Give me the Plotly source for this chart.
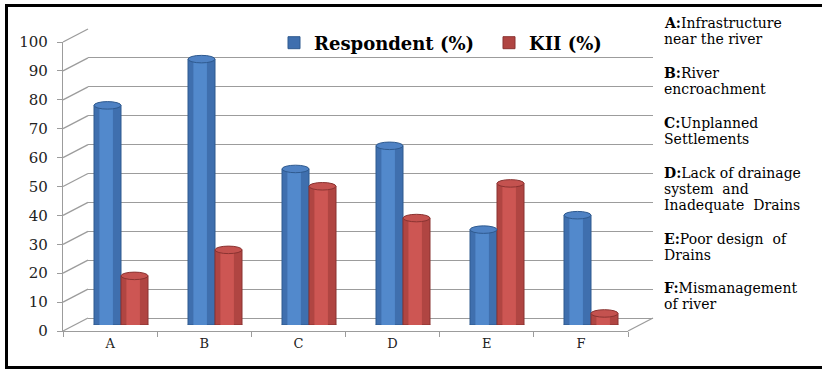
import plotly.graph_objects as go

categories = ["A", "B", "C", "D", "E", "F"]
respondent = [76, 92, 54, 62, 33, 38]
kii = [17, 26, 48, 37, 49, 4]
y_ticks = [0, 10, 20, 30, 40, 50, 60, 70, 80, 90, 100]
notes = [
    ["<b>A:</b>Infrastructure", "near the river"],
    ["<b>B:</b>River", "encroachment"],
    ["<b>C:</b>Unplanned", "Settlements"],
    ["<b>D:</b>Lack of drainage", "system\u00a0 and", "Inadequate\u00a0 Drains"],
    ["<b>E:</b>Poor design\u00a0 of", "Drains"],
    ["<b>F:</b>Mismanagement", "of river"],
]
# layout: first-line centre (px from top) for each note block
note_tops = [23, 73, 123, 173, 239, 288]
LINE_STEP = 16

W, H = 822, 370
def fx(p):
    return p / W
def fy(p):
    return 1 - p / H

GRID = "#9C9C9C"
SERIF = "DejaVu Serif"
BAR_W = 27 / 94
CAP = 1.3  # half-height of cylinder cap, in data units

fig = go.Figure()

# invisible anchor traces so back-wall and front-axis subplots are created
fig.add_trace(go.Scatter(x=categories, y=[0] * len(categories), xaxis="x", yaxis="y",
                         mode="markers", marker=dict(opacity=0), showlegend=False,
                         hoverinfo="skip"))
fig.add_trace(go.Scatter(x=categories, y=[0] * len(categories), xaxis="x2", yaxis="y2",
                         mode="markers", marker=dict(opacity=0), showlegend=False,
                         hoverinfo="skip"))

# main bars
fig.add_trace(go.Bar(x=categories, y=respondent, name="Respondent (%)", xaxis="x3", yaxis="y3",
                     width=BAR_W, offset=-BAR_W,
                     marker=dict(color="#3F6FAE", line=dict(color="#2F5A8F", width=1))))
fig.add_trace(go.Bar(x=categories, y=kii, name="KII (%)", xaxis="x3", yaxis="y3",
                     width=BAR_W, offset=0,
                     marker=dict(color="#B04542", line=dict(color="#8A3331", width=1))))
# cylinder highlight
fig.add_trace(go.Bar(x=categories, y=respondent, xaxis="x3", yaxis="y3", showlegend=False,
                     width=BAR_W * 0.5, offset=-BAR_W * 0.8, hoverinfo="skip",
                     marker=dict(color="#5289CC", line=dict(width=0))))
fig.add_trace(go.Bar(x=categories, y=kii, xaxis="x3", yaxis="y3", showlegend=False,
                     width=BAR_W * 0.5, offset=BAR_W * 0.2, hoverinfo="skip",
                     marker=dict(color="#CD5653", line=dict(width=0))))

# back wall geometry (px)
bx0, bx1, by0, by100 = 88, 653, 318, 29
# front axes geometry (px)
fx0, fx1, fy0, fy100 = 63, 628, 331, 42

shapes = []
for t in y_ticks:
    yb = by0 + (by100 - by0) * t / 100
    yf = fy0 + (fy100 - fy0) * t / 100
    shapes.append(dict(type="line", xref="paper", yref="paper",
                       x0=fx(fx0), y0=fy(yf), x1=fx(bx0), y1=fy(yb),
                       line=dict(color=GRID, width=1.3), layer="below"))
shapes.append(dict(type="line", xref="paper", yref="paper",
                   x0=fx(fx1), y0=fy(fy0), x1=fx(bx1), y1=fy(by0),
                   line=dict(color=GRID, width=1.3), layer="below"))

# cylinder caps (top ellipses and rounded bottoms) from the data
for i, (r, k) in enumerate(zip(respondent, kii)):
    for val, x0, fill, edge in ((r, i - BAR_W, "#4F82C4", "#2F5A8F"),
                                (k, i, "#C4524F", "#8A3331")):
        shapes.append(dict(type="circle", xref="x3", yref="y3",
                           x0=x0, x1=x0 + BAR_W, y0=-CAP, y1=CAP,
                           fillcolor=fill, line=dict(color=edge, width=1), layer="below"))
        shapes.append(dict(type="circle", xref="x3", yref="y3",
                           x0=x0, x1=x0 + BAR_W, y0=val - CAP, y1=val + CAP,
                           fillcolor=fill, line=dict(color=edge, width=1), layer="above"))

shapes.append(dict(type="rect", xref="paper", yref="paper",
                   x0=fx(6.5), y0=fy(5.5), x1=fx(835), y1=fy(367.5),
                   line=dict(color="black", width=3), fillcolor="rgba(0,0,0,0)"))

annotations = []
for lines, top in zip(notes, note_tops):
    for i, line in enumerate(lines):
        annotations.append(dict(xref="paper", yref="paper", x=fx(662), y=fy(top + i * LINE_STEP),
                                xanchor="left", yanchor="middle", align="left", showarrow=False,
                                text=line,
                                font=dict(family=SERIF, size=14, color="black")))

fig.update_layout(
    width=W, height=H,
    margin=dict(l=0, r=0, t=0, b=0, autoexpand=False),
    paper_bgcolor="white", plot_bgcolor="rgba(0,0,0,0)",
    barmode="overlay",
    showlegend=True,
    legend=dict(orientation="h", x=fx(274), xanchor="left", y=fy(43), yanchor="middle",
                bgcolor="rgba(0,0,0,0)", entrywidth=170, entrywidthmode="pixels",
                font=dict(family=SERIF, size=18, color="black", weight="bold")),
    xaxis=dict(domain=[fx(bx0), fx(bx1)], anchor="y", type="category",
               categoryorder="array", categoryarray=categories, range=[-0.5, 5.5],
               showgrid=False, zeroline=False, showline=False, showticklabels=False,
               ticks=""),
    yaxis=dict(domain=[fy(by0), fy(by100)], anchor="x", range=[0, 100], dtick=10,
               showgrid=True, gridcolor=GRID, gridwidth=1.3, zeroline=True,
               zerolinecolor=GRID, zerolinewidth=1.3, showticklabels=False, showline=False,
               ticks=""),
    xaxis2=dict(domain=[fx(fx0), fx(fx1)], anchor="y2", type="category",
                categoryorder="array", categoryarray=categories, range=[-0.5, 5.5],
                showline=True, linecolor=GRID, linewidth=1.3, ticks="outside",
                tickson="boundaries", ticklen=5, tickcolor=GRID, showgrid=False,
                tickfont=dict(family=SERIF, size=13, color="#222")),
    yaxis2=dict(domain=[fy(fy0), fy(fy100)], anchor="x2", range=[0, 100],
                tickvals=y_ticks, showline=True, linecolor=GRID, linewidth=1.3,
                ticks="outside", ticklen=5, tickcolor=GRID, showgrid=False, zeroline=False,
                ticklabelstandoff=6,
                tickfont=dict(family=SERIF, size=15, color="#222")),
    xaxis3=dict(domain=[fx(74), fx(638)], anchor="y3", type="category",
                categoryorder="array", categoryarray=categories, range=[-0.5, 5.5],
                visible=False),
    yaxis3=dict(domain=[fy(325), fy(36)], anchor="x3", range=[0, 100], visible=False),
    shapes=shapes,
    annotations=annotations,
)

fig.write_html("out.html")
